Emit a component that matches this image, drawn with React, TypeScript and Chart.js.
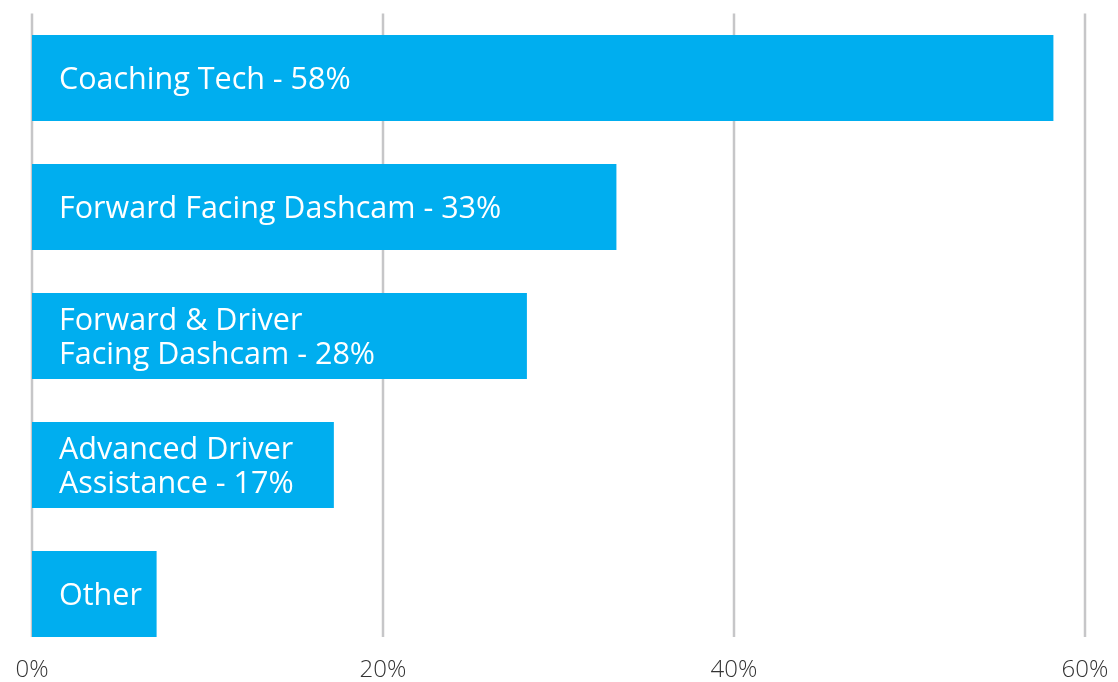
import React, { useEffect, useRef } from "react";
import { Chart, registerables } from "chart.js";

Chart.register(...registerables);

const categories: string[][] = [
  ["Coaching Tech - 58%"],
  ["Forward Facing Dashcam - 33%"],
  ["Forward & Driver", "Facing Dashcam - 28%"],
  ["Advanced Driver", "Assistance - 17%"],
  ["Other"],
];
const values: number[] = [58.2, 33.3, 28.2, 17.2, 7.1];
const tickValues: number[] = [0, 20, 40, 60];

const BAR_COLOR = "#00AEEF";
const GRID_COLOR = "#c6c6c8";
const FONT = "'Open Sans', 'Noto Sans', sans-serif";

const gridPlugin = {
  id: "customGrid",
  beforeDatasetsDraw(chart: any) {
    const { ctx, chartArea, scales } = chart;
    const meta = chart.getDatasetMeta(0);
    const last = meta.data[meta.data.length - 1] as any;
    const bottom = last.y + last.height / 2;
    ctx.save();
    ctx.strokeStyle = GRID_COLOR;
    ctx.lineWidth = 2.5;
    tickValues.forEach((v) => {
      const x = scales.x.getPixelForValue(v);
      ctx.beginPath();
      ctx.moveTo(x, chartArea.top);
      ctx.lineTo(x, bottom);
      ctx.stroke();
    });
    ctx.restore();
  },
};

const labelPlugin = {
  id: "barLabels",
  afterDatasetsDraw(chart: any) {
    const { ctx } = chart;
    const meta = chart.getDatasetMeta(0);
    ctx.save();
    ctx.fillStyle = "#ffffff";
    ctx.font = `30.5px ${FONT}`;
    ctx.textBaseline = "middle";
    ctx.textAlign = "left";
    const lineH = 34;
    meta.data.forEach((el: any, i: number) => {
      const lines = categories[i];
      const x0 = el.base + 27;
      const startY = el.y - ((lines.length - 1) * lineH) / 2 + 2;
      lines.forEach((ln, j) => {
        ctx.fillText(ln, x0, startY + j * lineH);
      });
    });
    ctx.restore();
  },
};

export default function App() {
  const ref = useRef<HTMLCanvasElement | null>(null);
  useEffect(() => {
    if (!ref.current) return;
    const chart = new Chart(ref.current, {
      type: "bar",
      data: {
        labels: categories.map((c) => c.join(" ")),
        datasets: [
          {
            data: values,
            backgroundColor: BAR_COLOR,
            borderWidth: 0,
            barPercentage: 1,
            categoryPercentage: 86 / 129,
          },
        ],
      },
      options: {
        indexAxis: "y",
        animation: false,
        responsive: false,
        maintainAspectRatio: false,
        layout: { padding: { left: 32, right: 33, top: 13.5, bottom: 0 } },
        plugins: {
          legend: { display: false },
          tooltip: { enabled: false },
        },
        scales: {
          y: { display: false },
          x: {
            min: 0,
            max: 60,
            afterBuildTicks: (s: any) => {
              s.ticks = tickValues.map((v) => ({ value: v }));
            },
            afterFit: (s: any) => {
              s.height = 23.5;
            },
            grid: { display: false, drawTicks: false },
            border: { display: false },
            ticks: {
              padding: -3,
              color: "#333333",
              font: { family: FONT, size: 24, weight: "300" },
              callback: (v: any) => `${v}%`,
            },
          },
        },
      },
      plugins: [gridPlugin, labelPlugin],
    });
    return () => chart.destroy();
  }, []);
  return (
    <div style={{ position: "fixed", left: 0, top: 0, width: 1118, height: 682 }}>
      <canvas ref={ref} width={1118} height={682} style={{ width: 1118, height: 682 }} />
    </div>
  );
}
